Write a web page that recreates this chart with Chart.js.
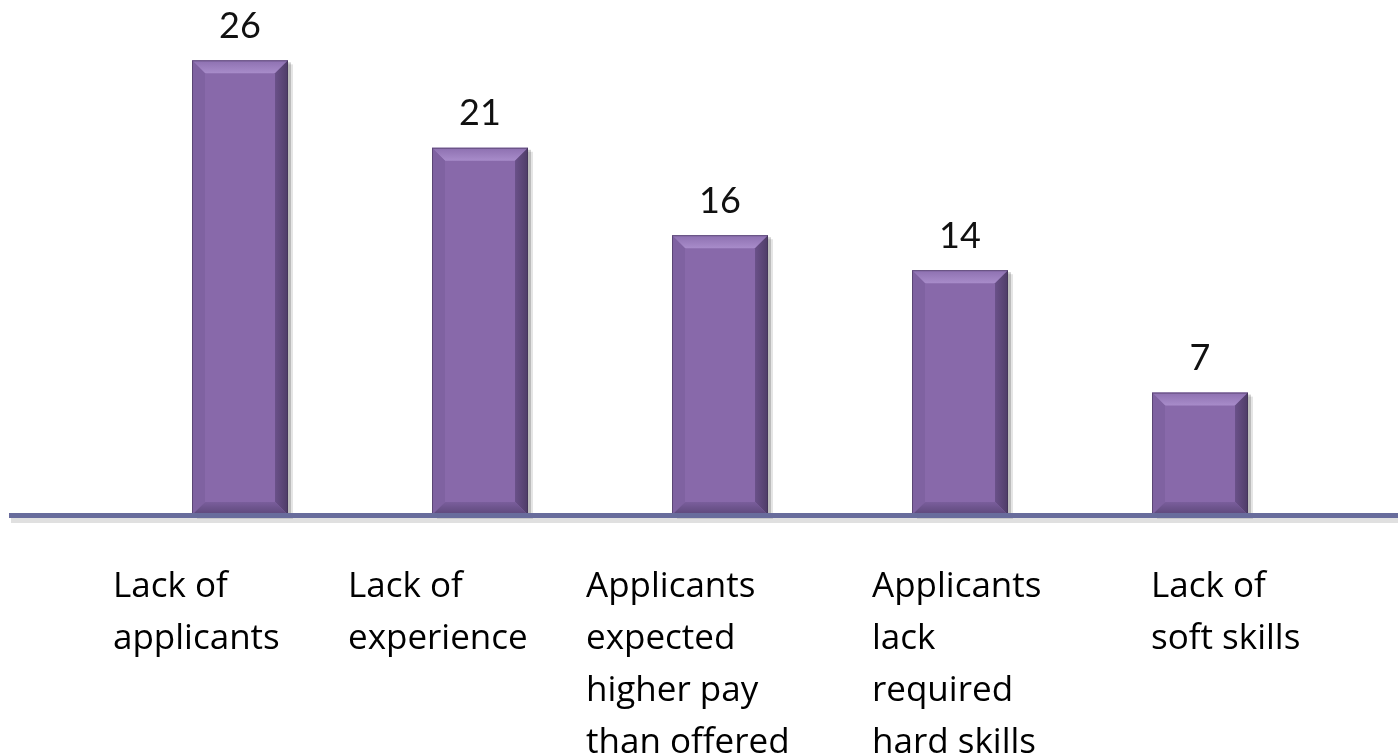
<!DOCTYPE html>
<html>
<head>
<meta charset="utf-8">
<script src="https://cdn.jsdelivr.net/npm/chart.js@4.4.1/dist/chart.umd.min.js"></script>
<style>
  html, body { margin: 0; padding: 0; background: #ffffff; }
  #wrap { width: 1398px; height: 754px; }
</style>
</head>
<body>
<div id="wrap"><canvas id="migrafica"></canvas></div>
<script>
// categories (one entry per line of the axis label)
const categories = [
    ["Lack of", "applicants"],
    ["Lack of", "experience"],
    ["Applicants", "expected", "higher pay", "than offered"],
    ["Applicants", "lack", "required", "hard skills"],
    ["Lack of", "soft skills"]
];
const values = [26, 21, 16, 14, 7];

// left edge of each label block relative to its category centre
const labelShift = [-127, -132, -134, -88, -49];

// bevelled bars + base line + value labels + category labels
const bevelBars = {
    id: "bevelBars",
    afterDatasetsDraw(chart) {
        const ctx = chart.ctx;
        const meta = chart.getDatasetMeta(0);
        const b = 13;
        meta.data.forEach(function (bar, i) {
            const x0 = bar.x - bar.width / 2, x1 = bar.x + bar.width / 2;
            const y0 = bar.y, y1 = bar.base;
            ctx.save();
            // drop shadow
            ctx.fillStyle = "rgba(0,0,0,0.18)";
            ctx.fillRect(x0 + 3, y0 + 2, x1 - x0, y1 - y0);
            ctx.fillStyle = "rgba(0,0,0,0.10)";
            ctx.fillRect(x0 + 5, y0 + 4, x1 - x0, y1 - y0);

            const poly = function (pts, fill) {
                ctx.beginPath();
                ctx.moveTo(pts[0][0], pts[0][1]);
                for (let k = 1; k < pts.length; k++) ctx.lineTo(pts[k][0], pts[k][1]);
                ctx.closePath();
                ctx.fillStyle = fill;
                ctx.fill();
            };
            // face
            ctx.fillStyle = "#8869aa";
            ctx.fillRect(x0, y0, x1 - x0, y1 - y0);
            // top bevel
            let g = ctx.createLinearGradient(0, y0, 0, y0 + b);
            g.addColorStop(0, "#8d70b0");
            g.addColorStop(1, "#a88cca");
            poly([[x0, y0], [x1, y0], [x1 - b, y0 + b], [x0 + b, y0 + b]], g);
            // left bevel
            poly([[x0, y0], [x0 + b, y0 + b], [x0 + b, y1 - b], [x0, y1]], "#7f62a1");
            // right bevel
            g = ctx.createLinearGradient(x1 - b, 0, x1, 0);
            g.addColorStop(0, "#6a5189");
            g.addColorStop(1, "#4e3c67");
            poly([[x1, y0], [x1, y1], [x1 - b, y1 - b], [x1 - b, y0 + b]], g);
            // bottom bevel
            g = ctx.createLinearGradient(0, y1 - b, 0, y1);
            g.addColorStop(0, "#7a5e9c");
            g.addColorStop(1, "#5c4779");
            poly([[x0, y1], [x0 + b, y1 - b], [x1 - b, y1 - b], [x1, y1]], g);
            // thin outline
            ctx.strokeStyle = "rgba(60,45,80,0.55)";
            ctx.lineWidth = 1;
            ctx.strokeRect(x0 + 0.5, y0 + 0.5, x1 - x0 - 1, y1 - y0);
            ctx.restore();

            // value label
            ctx.save();
            ctx.fillStyle = "#111111";
            ctx.font = "36px 'Lato'";
            ctx.textAlign = "center";
            ctx.textBaseline = "middle";
            ctx.fillText(String(values[i]), bar.x, y0 - 34);
            ctx.restore();
        });

        // base line
        const yBase = chart.scales.y.getPixelForValue(0);
        ctx.save();
        ctx.fillStyle = "rgba(0,0,0,0.12)";
        ctx.fillRect(11, yBase + 2, chart.width - 11, 6);
        ctx.fillStyle = "#686c9c";
        ctx.fillRect(9, yBase - 2, chart.width - 9, 5);
        ctx.restore();

        // category labels
        const xs = chart.scales.x;
        ctx.save();
        ctx.fillStyle = "#000000";
        ctx.font = "35px 'Open Sans'";
        ctx.textAlign = "left";
        ctx.textBaseline = "alphabetic";
        categories.forEach(function (lines, i) {
            const left = xs.getPixelForValue(i) + labelShift[i];
            lines.forEach(function (line, j) {
                ctx.fillText(line, left, 597 + j * 52);
            });
        });
        ctx.restore();
    }
};

const chart = new Chart(document.getElementById("migrafica").getContext("2d"), {
    type: "bar",
    data: {
        labels: categories.map(function (c) { return c.join(" "); }),
        datasets: [{
            data: values,
            backgroundColor: "rgba(0,0,0,0)",
            categoryPercentage: 1,
            barPercentage: 0.4
        }]
    },
    options: {
        responsive: true,
        maintainAspectRatio: false,
        animation: false,
        layout: { padding: { left: 120, right: 78, top: 0, bottom: 239 } },
        scales: {
            x: { display: false },
            y: { display: false, min: 0, max: 29.45 }
        },
        plugins: {
            legend: { display: false },
            tooltip: { enabled: false }
        }
    },
    plugins: [bevelBars]
});
</script>
</body>
</html>
